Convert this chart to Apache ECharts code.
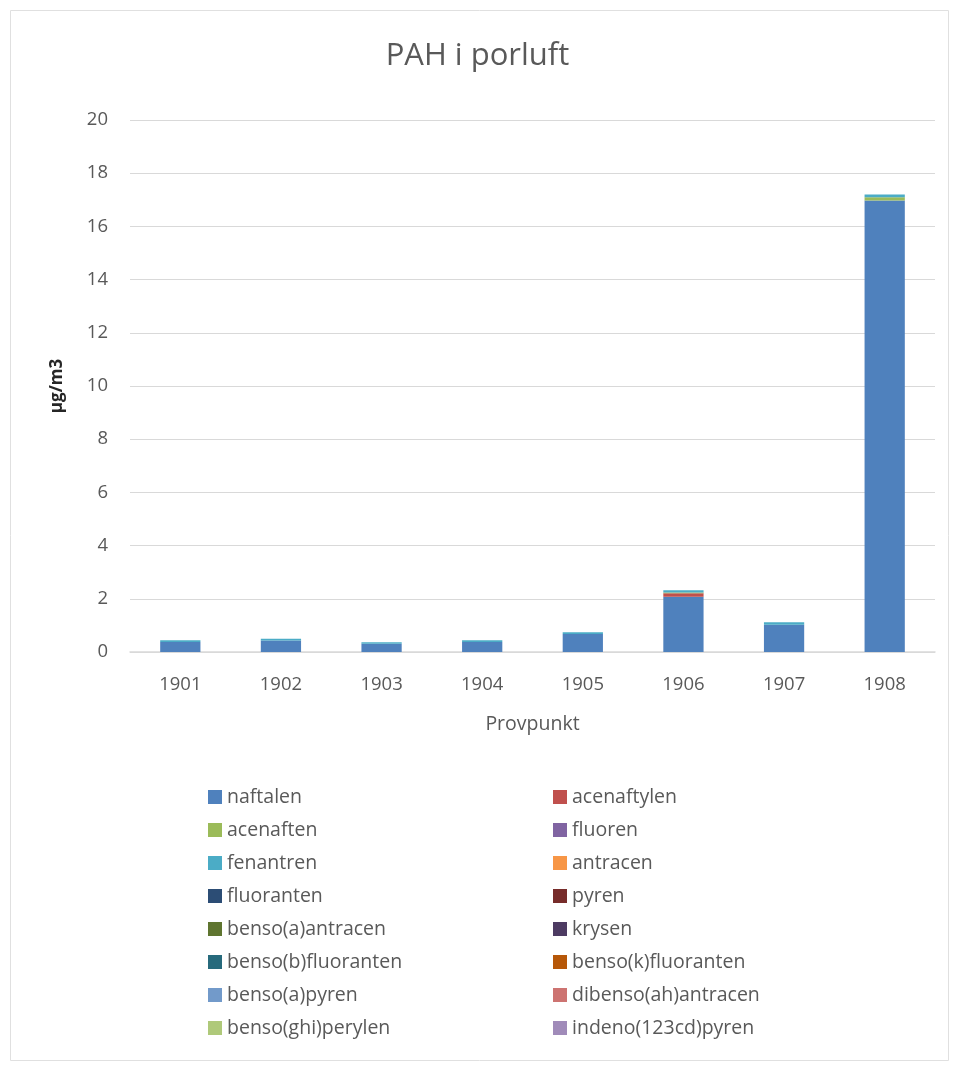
<!DOCTYPE html>
<html>
<head>
<meta charset="utf-8">
<script src="https://cdn.jsdelivr.net/npm/echarts@6/dist/echarts.min.js"></script>
<style>
  html, body { margin: 0; padding: 0; background: #fff; }
  #chart { width: 955px; height: 1070px; }
</style>
</head>
<body>
<div id="chart"></div>
<script>
const categories = ["1901", "1902", "1903", "1904", "1905", "1906", "1907", "1908"];

const naftalen = [0.38, 0.43, 0.31, 0.38, 0.68, 2.08, 1.02, 16.97];
const acenaftylen = [0, 0, 0, 0, 0, 0.13, 0, 0];
const acenaften = [0, 0, 0, 0, 0, 0.03, 0, 0.13];
const fluoren = [0, 0, 0, 0, 0, 0, 0, 0];
const fenantren = [0.06, 0.07, 0.06, 0.06, 0.06, 0.08, 0.1, 0.1];
const antracen = [0, 0, 0, 0, 0, 0, 0, 0];
const fluoranten = [0, 0, 0, 0, 0, 0, 0, 0];
const pyren = [0, 0, 0, 0, 0, 0, 0, 0];
const bensoAAntracen = [0, 0, 0, 0, 0, 0, 0, 0];
const krysen = [0, 0, 0, 0, 0, 0, 0, 0];
const bensoBFluoranten = [0, 0, 0, 0, 0, 0, 0, 0];
const bensoKFluoranten = [0, 0, 0, 0, 0, 0, 0, 0];
const bensoAPyren = [0, 0, 0, 0, 0, 0, 0, 0];
const dibensoAhAntracen = [0, 0, 0, 0, 0, 0, 0, 0];
const bensoGhiPerylen = [0, 0, 0, 0, 0, 0, 0, 0];
const indenoPyren = [0, 0, 0, 0, 0, 0, 0, 0];

const seriesList = [
  { name: "naftalen", data: naftalen, color: "#4F81BD" },
  { name: "acenaftylen", data: acenaftylen, color: "#C0504D" },
  { name: "acenaften", data: acenaften, color: "#9BBB59" },
  { name: "fluoren", data: fluoren, color: "#8064A2" },
  { name: "fenantren", data: fenantren, color: "#4BACC6" },
  { name: "antracen", data: antracen, color: "#F79646" },
  { name: "fluoranten", data: fluoranten, color: "#2C4D75" },
  { name: "pyren", data: pyren, color: "#772C2A" },
  { name: "benso(a)antracen", data: bensoAAntracen, color: "#5F7530" },
  { name: "krysen", data: krysen, color: "#4D3B62" },
  { name: "benso(b)fluoranten", data: bensoBFluoranten, color: "#276A7C" },
  { name: "benso(k)fluoranten", data: bensoKFluoranten, color: "#B65708" },
  { name: "benso(a)pyren", data: bensoAPyren, color: "#729ACA" },
  { name: "dibenso(ah)antracen", data: dibensoAhAntracen, color: "#CD7371" },
  { name: "benso(ghi)perylen", data: bensoGhiPerylen, color: "#AFC97A" },
  { name: "indeno(123cd)pyren", data: indenoPyren, color: "#A08BB9" },
];

const leftNames = seriesList.filter((s, i) => i % 2 === 0).map((s) => s.name);
const rightNames = seriesList.filter((s, i) => i % 2 === 1).map((s) => s.name);

const textColor = "#595959";
const font = "'Open Sans', 'Noto Sans', sans-serif";

const legendBase = {
  orient: "vertical",
  top: 782,
  itemWidth: 14,
  itemHeight: 14,
  itemGap: 13,
  icon: "rect",
  textStyle: { color: textColor, fontSize: 19.5, fontFamily: font, lineHeight: 20 },
};

const chart = echarts.init(document.getElementById("chart"));
chart.setOption({
  backgroundColor: "#fff",
  animation: false,
  title: {
    text: "PAH i porluft",
    left: "center",
    top: 36,
    textStyle: { color: textColor, fontSize: 31, fontWeight: "normal", fontFamily: font },
  },
  graphic: [
    {
      type: "rect",
      shape: { x: 10.5, y: 10.5, width: 938, height: 1050 },
      style: { fill: "none", stroke: "#e0e0e0", lineWidth: 1 },
      silent: true,
    },
  ],
  legend: [
    Object.assign({}, legendBase, { left: 203, data: leftNames }),
    Object.assign({}, legendBase, { left: 548, data: rightNames }),
  ],
  grid: { left: 130, right: 20, top: 120, bottom: 418 },
  xAxis: {
    type: "category",
    data: categories,
    name: "Provpunkt",
    nameLocation: "middle",
    nameGap: 62,
    nameTextStyle: { color: textColor, fontSize: 19.5, fontFamily: font },
    axisLine: { lineStyle: { color: "#d9d9d9", width: 1.5 } },
    axisTick: { show: false },
    axisLabel: { color: textColor, fontSize: 18.5, fontFamily: font, margin: 23 },
  },
  yAxis: {
    type: "value",
    min: 0,
    max: 20,
    interval: 2,
    name: "µg/m3",
    nameLocation: "middle",
    nameGap: 64,
    nameTextStyle: { color: "#262626", fontSize: 17, fontFamily: font, fontWeight: "bold" },
    axisLine: { show: false },
    axisTick: { show: false },
    axisLabel: { color: textColor, fontSize: 18.5, fontFamily: font, margin: 22 },
    splitLine: { lineStyle: { color: "#d9d9d9", width: 1.2 } },
  },
  series: seriesList.map((s) => ({
    name: s.name,
    type: "bar",
    stack: "total",
    barWidth: "40%",
    data: s.data,
    itemStyle: { color: s.color },
  })),
});
</script>
</body>
</html>
